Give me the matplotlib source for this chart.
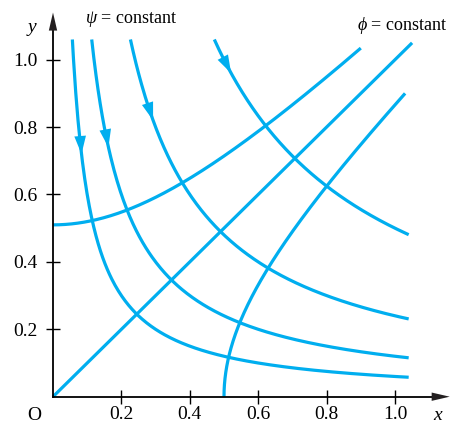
import numpy as np
import matplotlib.pyplot as plt

plt.rcParams['font.family'] = 'Liberation Serif'
plt.rcParams['mathtext.fontset'] = 'custom'
plt.rcParams['mathtext.rm'] = 'Liberation Serif'
plt.rcParams['mathtext.it'] = 'Liberation Serif:italic'

# stream function psi = x*y and potential phi = x^2 - y^2
psi_values = [0.06, 0.12, 0.24, 0.5]
phi_values = [-0.26, 0.0, 0.25]
arrow_y = [0.72, 0.74, 0.82, 0.96]
ticks = [0.2, 0.4, 0.6, 0.8, 1.0]
tick_labels = ['0.2', '0.4', '0.6', '0.8', '1.0']

blue = '#00aeef'
lw = 2.3

fig = plt.figure(figsize=(4.63, 4.24), dpi=100)
ax = fig.add_axes([0, 0, 1, 1])
ax.set_xlim(-53 / 342, (463 - 53) / 342)
ax.set_ylim(-(424 - 396.7) / 337, 396.7 / 337)

y_top, x_end = 1.06, 1.04

# psi = constant lines with direction arrows
for c, ya in zip(psi_values, arrow_y):
    x = np.linspace(c / y_top, x_end, 300)
    ax.plot(x, c / x, color=blue, lw=lw, solid_capstyle='butt')
    xa = c / ya
    xt = xa - 0.03
    ax.annotate('', xy=(xa, ya), xytext=(xt, c / xt),
                arrowprops=dict(arrowstyle='-|>,head_length=1.3,head_width=0.42',
                                color=blue, lw=0, shrinkA=0, shrinkB=0))

# phi = constant lines
for c in phi_values:
    if c < 0:
        x = np.linspace(0, 0.9, 300)
        ax.plot(x, np.sqrt(x ** 2 - c), color=blue, lw=lw, solid_capstyle='butt')
    elif c == 0:
        x = np.linspace(0, 1.05, 10)
        ax.plot(x, x, color=blue, lw=lw, solid_capstyle='butt')
    else:
        y = np.linspace(0, 0.9, 300)
        ax.plot(np.sqrt(y ** 2 + c), y, color=blue, lw=lw, solid_capstyle='butt')

# axes through the origin
for s in ['top', 'right']:
    ax.spines[s].set_visible(False)
ax.spines['left'].set_position(('data', 0))
ax.spines['bottom'].set_position(('data', 0))
ax.spines['left'].set_bounds(0, 1.1)
ax.spines['bottom'].set_bounds(0, 1.12)
ax.spines['left'].set_linewidth(1.3)
ax.spines['bottom'].set_linewidth(1.3)
ax.annotate('', xy=(0, 1.14), xytext=(0, 1.06),
            arrowprops=dict(arrowstyle='-|>,head_length=1.3,head_width=0.3',
                            color='#231f20', lw=0, shrinkA=0, shrinkB=0))
ax.annotate('', xy=(1.16, 0), xytext=(1.08, 0),
            arrowprops=dict(arrowstyle='-|>,head_length=1.3,head_width=0.3',
                            color='#231f20', lw=0, shrinkA=0, shrinkB=0))

ax.set_xticks(ticks, tick_labels)
ax.set_yticks(ticks, tick_labels)
ax.tick_params(direction='inout', length=10, width=1, labelsize=14)
ax.tick_params(axis='y', pad=6)
ax.tick_params(axis='x', pad=2)

ax.text(-0.055, -0.055, 'O', fontsize=14, ha='center', va='center')
ax.text(1.125, -0.055, 'x', fontsize=14, style='italic', ha='center', va='center')
ax.text(-0.062, 1.095, 'y', fontsize=14, style='italic', ha='center', va='center')
ax.text(0.095, 1.12, r'$\psi$ = constant', fontsize=13, ha='left', va='center')
ax.text(0.89, 1.1, r'$\phi$ = constant', fontsize=13, ha='left', va='center')

fig.savefig('out.png', dpi=100)
